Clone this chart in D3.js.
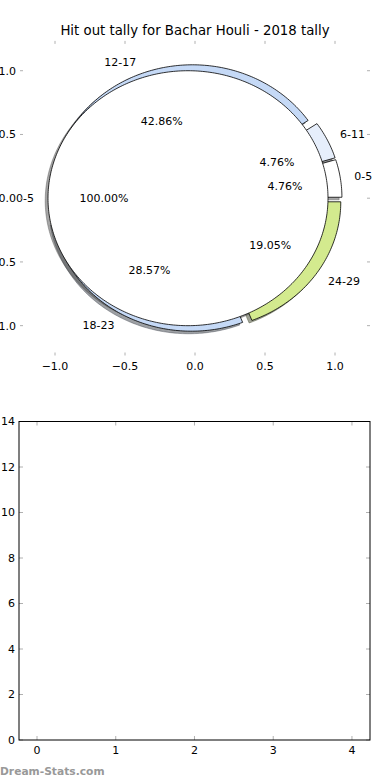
<!DOCTYPE html>
<html>
<head>
<meta charset="utf-8">
<script src="https://cdn.jsdelivr.net/npm/d3@7"></script>
<style>
  body { margin: 0; background: #fff; }
  svg { display: block; font-family: "DejaVu Sans", sans-serif; }
</style>
</head>
<body>
<svg id="chart" width="390" height="780"></svg>
<script>
// hit outs per age group (counts, total 21)
const ageGroups = ["0-5", "6-11", "12-17", "18-23", "24-29"];
const hitOuts = [1, 1, 9, 6, 4];
const sliceColors = ["#ffffff", "#e6eefb", "#c5d9f6", "#c5d9f6", "#d3ea8e"];

// the white overlay pie that sits on top
const overlayLabels = ["0-5"];
const overlayValues = [1];

const pieTicks = [-1.0, -0.5, 0.0, 0.5, 1.0];
const barXTicks = [0, 1, 2, 3, 4];
const barYTicks = [0, 2, 4, 6, 8, 10, 12, 14];

window.onload = function () {
    var svg = d3.select("#chart");
    var fmtTick = d3.format(".1f");
    var minus = function (s) { return s.replace("-", "\u2212"); };
    var tickColor = "#b0b0b0";

    // ---- top: pie axes ----
    var x = d3.scaleLinear().domain([-1.25, 1.25]).range([20, 370]),
        y = d3.scaleLinear().domain([-1.234, 1.234]).range([355.5, 40.9]);

    svg.append("text").attr("x", 195).attr("y", 35).attr("text-anchor", "middle")
        .attr("font-size", "13.3px").text("Hit out tally for Bachar Houli - 2018 tally");

    var line = d3.line().x(function (p) { return x(p[0]); }).y(function (p) { return y(p[1]); });

    function wedge(cx, cy, r, a0, a1) {
        var pts = [];
        var full = (a1 - a0) >= 359.999;
        if (!full) pts.push([cx, cy]);
        var n = Math.max(2, Math.ceil((a1 - a0) / 1));
        for (var i = 0; i <= n; i++) {
            var a = (a0 + (a1 - a0) * i / n) * Math.PI / 180;
            pts.push([cx + r * Math.cos(a), cy + r * Math.sin(a)]);
        }
        return line(pts) + "Z";
    }

    function buildPie(labels, values, colors, explode) {
        var arcs = d3.pie().sort(null).value(function (d) { return d; })(values);
        var total = d3.sum(values);
        return arcs.map(function (a, i) {
            var t0 = a.startAngle * 180 / Math.PI, t1 = a.endAngle * 180 / Math.PI;
            var mid = (t0 + t1) / 2 * Math.PI / 180;
            var cx = explode * Math.cos(mid), cy = explode * Math.sin(mid);
            return { label: labels[i], pct: 100 * values[i] / total, color: colors[i],
                     t0: t0, t1: t1, mid: mid, cx: cx, cy: cy };
        });
    }

    var pieA = buildPie(ageGroups, hitOuts, sliceColors, 0.05);
    var pieB = buildPie(overlayLabels, overlayValues, ["#ffffff"], 0.05);

    function shadowFill(c) {
        var rgb = d3.rgb(c);
        return "rgba(" + Math.round(rgb.r * 0.3) + "," + Math.round(rgb.g * 0.3) + "," + Math.round(rgb.b * 0.3) + ",0.5)";
    }

    var gPie = svg.append("g");
    // shadows first (lower zorder), then wedges
    pieA.concat(pieB).forEach(function (w) {
        gPie.append("path").attr("d", wedge(w.cx - 0.02, w.cy - 0.02, 1, w.t0, w.t1))
            .attr("fill", shadowFill(w.color)).attr("stroke", shadowFill(w.color)).attr("stroke-width", 0.8);
    });
    pieA.concat(pieB).forEach(function (w) {
        gPie.append("path").attr("d", wedge(w.cx, w.cy, 1, w.t0, w.t1))
            .attr("fill", w.color).attr("stroke", "#000").attr("stroke-width", 0.8);
    });

    var fmtPct = d3.format(".2f");
    pieA.concat(pieB).forEach(function (w) {
        var lx = w.cx + 1.1 * Math.cos(w.mid), ly = w.cy + 1.1 * Math.sin(w.mid);
        gPie.append("text").attr("x", x(lx)).attr("y", y(ly)).attr("dy", "0.35em")
            .attr("text-anchor", lx > 0 ? "start" : "end").attr("font-size", "11px").text(w.label);
        var px = w.cx + 0.6 * Math.cos(w.mid), py = w.cy + 0.6 * Math.sin(w.mid);
        gPie.append("text").attr("x", x(px)).attr("y", y(py)).attr("dy", "0.35em")
            .attr("text-anchor", "middle").attr("font-size", "11px").text(fmtPct(w.pct) + "%");
    });

    // ticks (no frame on the pie axes)
    var x0 = x.range()[0], x1 = x.range()[1], yb = y.range()[0], yt = y.range()[1];
    var gt = svg.append("g").attr("stroke", tickColor).attr("stroke-width", 1);
    pieTicks.forEach(function (t) {
        gt.append("line").attr("x1", x(t)).attr("x2", x(t)).attr("y1", yt).attr("y2", yt + 3);
        gt.append("line").attr("x1", x(t)).attr("x2", x(t)).attr("y1", yb).attr("y2", yb - 3);
        gt.append("line").attr("y1", y(t)).attr("y2", y(t)).attr("x1", x0).attr("x2", x0 + 3);
        gt.append("line").attr("y1", y(t)).attr("y2", y(t)).attr("x1", x1).attr("x2", x1 - 3);
        svg.append("text").attr("x", x(t)).attr("y", yb + 14).attr("text-anchor", "middle")
            .attr("font-size", "11px").text(minus(fmtTick(t)));
        svg.append("text").attr("x", x0 - 4).attr("y", y(t)).attr("dy", "0.35em").attr("text-anchor", "end")
            .attr("font-size", "11px").text(minus(fmtTick(t)));
    });

    // ---- bottom: empty bar axes ----
    var bx = d3.scaleLinear().domain([-0.2286, 4.229]).range([19, 370]),
        by = d3.scaleLinear().domain([0, 14]).range([740, 421.5]);

    var gb = svg.append("g");
    barXTicks.forEach(function (t) {
        gb.append("line").attr("x1", bx(t)).attr("x2", bx(t)).attr("y1", 740).attr("y2", 736).attr("stroke", tickColor);
        gb.append("line").attr("x1", bx(t)).attr("x2", bx(t)).attr("y1", 421.5).attr("y2", 425.5).attr("stroke", tickColor);
        gb.append("text").attr("x", bx(t)).attr("y", 754).attr("text-anchor", "middle").attr("font-size", "11px").text(t);
    });
    barYTicks.forEach(function (t) {
        gb.append("line").attr("y1", by(t)).attr("y2", by(t)).attr("x1", 19).attr("x2", 23).attr("stroke", tickColor);
        gb.append("line").attr("y1", by(t)).attr("y2", by(t)).attr("x1", 370).attr("x2", 366).attr("stroke", tickColor);
        gb.append("text").attr("x", 15).attr("y", by(t)).attr("dy", "0.35em").attr("text-anchor", "end")
            .attr("font-size", "11px").text(t);
    });
    gb.append("rect").attr("x", 19).attr("y", 421.5).attr("width", 351).attr("height", 318.5)
        .attr("fill", "none").attr("stroke", "#000").attr("stroke-width", 1);

    svg.append("text").attr("x", 0).attr("y", 775).attr("font-size", "10.7px").attr("font-weight", "bold")
        .attr("fill", "#999").text("Dream-Stats.com");
};
</script>
</body>
</html>
